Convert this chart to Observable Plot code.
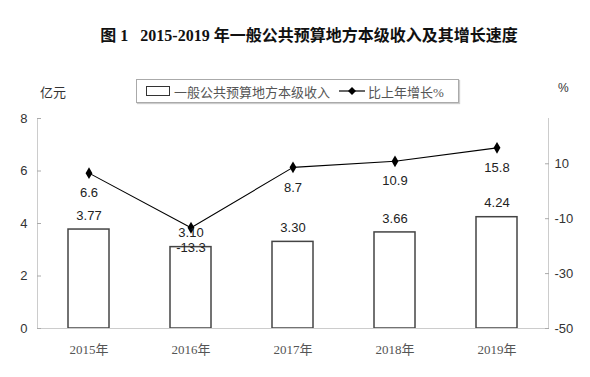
<!DOCTYPE html>
<html>
<head>
<meta charset="utf-8">
<script src="https://cdn.jsdelivr.net/npm/d3@7"></script>
<script src="https://cdn.jsdelivr.net/npm/@observablehq/plot@0.6"></script>
<style>
  body { margin: 0; background: #fff; }
  #wrap { width: 590px; position: relative; }
  #head { position: relative; height: 105px; font-family: "Liberation Serif", "Noto Sans CJK SC", serif; }
  #title { position: absolute; top: 22px; left: 28px; width: 562px; text-align: center; font-size: 16px; font-weight: bold; color: #111; white-space: pre; }
  #unitL { position: absolute; left: 40px; top: 82px; font-size: 13px; color: #333; font-family: "Noto Sans CJK SC", sans-serif; }
  #unitR { position: absolute; left: 558px; top: 81px; font-size: 12px; color: #333; font-family: "Liberation Sans", sans-serif; }
  #legend { position: absolute; left: 136px; top: 79px; width: 321px; height: 22px; border: 1px solid #aaa; box-shadow: 1px 1px 1px #ccc; background: #fff; font-size: 13px; color: #555; }
  #legend .sw { position: absolute; left: 9px; top: 6px; width: 22px; height: 8px; border: 1.5px solid #333; }
  #legend .t1 { position: absolute; left: 37px; top: 2px; }
  #legend svg { position: absolute; left: 202px; top: 5px; }
  #legend .t2 { position: absolute; left: 231px; top: 2px; }
  svg { display: block; }
</style>
</head>
<body>
<div id="wrap">
  <div id="head">
    <div id="title">图 1   2015-2019 年一般公共预算地方本级收入及其增长速度</div>
    <div id="unitL">亿元</div>
    <div id="unitR">%</div>
    <div id="legend">
      <div class="sw"></div>
      <div class="t1">一般公共预算地方本级收入</div>
      <svg width="28" height="12"><line x1="0" y1="6" x2="26" y2="6" stroke="#000" stroke-width="1.2"/><path d="M13,2 L17,6 L13,10 L9,6 Z" fill="#000"/></svg>
      <div class="t2">比上年增长%</div>
    </div>
  </div>
  <div id="chart"></div>
</div>
<script>
const years = ["2015年", "2016年", "2017年", "2018年", "2019年"];
const revenue = [3.77, 3.10, 3.30, 3.66, 4.24];
const growth = [6.6, -13.3, 8.7, 10.9, 15.8];
const revenueLabels = ["3.77", "3.10", "3.30", "3.66", "4.24"];
const growthLabels = ["6.6", "-13.3", "8.7", "10.9", "15.8"];
const leftTicks = [0, 2, 4, 6, 8];
const rightTicks = [-50, -30, -10, 10];

const leftMax = 8;
const rightMin = -50, rightMax = 26.5;
const toLeft = v => (v - rightMin) / (rightMax - rightMin) * leftMax;
const toRight = v => Math.round(v / leftMax * (rightMax - rightMin) + rightMin);

const rows = years.map((y, i) => ({
  year: y, rev: revenue[i], g: growth[i], gl: toLeft(growth[i]),
  revLabel: revenueLabels[i], gLabel: growthLabels[i]
}));

const numFont = "Liberation Sans, Arial, sans-serif";

const chart = Plot.plot({
  width: 590,
  height: 272,
  marginTop: 13,
  marginBottom: 49,
  marginLeft: 37,
  marginRight: 42,
  style: { fontFamily: numFont, fontSize: "13px", color: "#333", background: "#fff" },
  x: { domain: years, paddingInner: 0.6, paddingOuter: 0.3, label: null },
  y: { domain: [0, leftMax], label: null },
  marks: [
    Plot.barY(rows, { x: "year", y: "rev", fill: "#fff", stroke: "#444", strokeWidth: 1.5 }),
    Plot.ruleY([0], { stroke: "#ccc", strokeWidth: 1 }),
    Plot.frame({ anchor: "left", stroke: "#ccc" }),
    Plot.frame({ anchor: "right", stroke: "#ccc" }),
    Plot.axisY(leftTicks, { anchor: "left", tickSize: -4, tickPadding: 14, stroke: "#aaa", fontSize: 13, fill: "#333", label: null }),
    Plot.axisY(rightTicks.map(toLeft), { anchor: "right", tickSize: -4, tickPadding: 10, stroke: "#aaa", tickFormat: toRight, fontSize: 13, fill: "#333", label: null }),
    Plot.axisX({ anchor: "bottom", tickSize: 0, tickPadding: 16, fontSize: 13, fill: "#555", fontFamily: "Liberation Serif, Noto Sans CJK SC, serif", label: null }),
    Plot.line(rows, { x: "year", y: "gl", stroke: "#000", strokeWidth: 1.1 }),
    Plot.dot(rows, { x: "year", y: "gl", symbol: "diamond", r: 3.6, fill: "#000", stroke: "none" }),
    Plot.text(rows, { x: "year", y: "rev", text: "revLabel", dy: -14, fontSize: 13, fill: "#222" }),
    Plot.text(rows, { x: "year", y: "gl", text: "gLabel", dy: 20, fontSize: 13, fill: "#222" })
  ]
});
document.getElementById("chart").appendChild(chart);
</script>
</body>
</html>
